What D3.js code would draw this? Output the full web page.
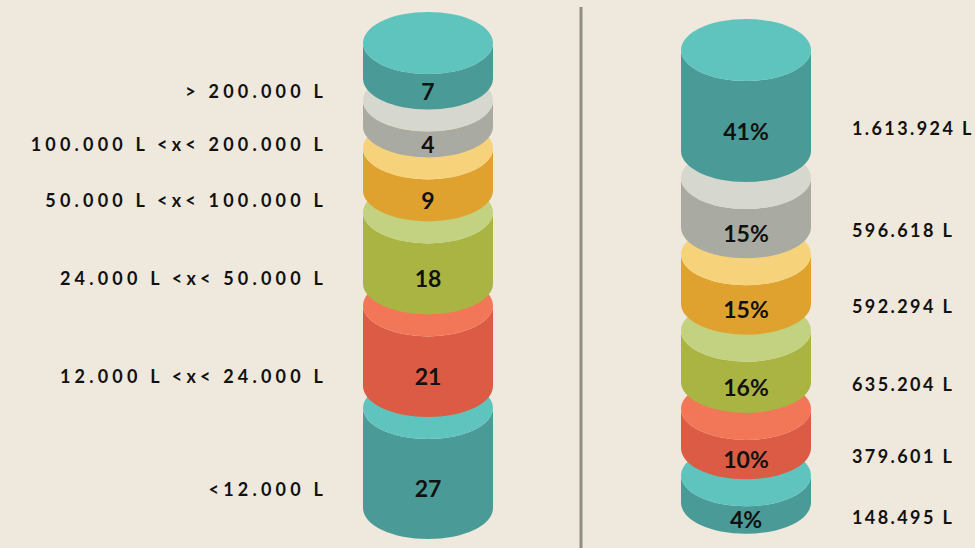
<!DOCTYPE html>
<html>
<head>
<meta charset="utf-8">
<script src="https://cdn.jsdelivr.net/npm/d3@7"></script>
<style>
body{margin:0;background:#efe8dc;}
svg{display:block;}
</style>
</head>
<body>
<svg id="chart" width="975" height="548"></svg>
<script>
// classes de volume, de baixo pra cima
var classes = ["<12.000 L", "12.000 L <x< 24.000 L", "24.000 L <x< 50.000 L", "50.000 L <x< 100.000 L", "100.000 L <x< 200.000 L", "> 200.000 L"];
var counts = [27, 21, 18, 9, 4, 7];
var shares = [4, 10, 16, 15, 15, 41];
var volumes = [148495, 379601, 635204, 592294, 596618, 1613924];

var sideColors = ["#4a9b97", "#dc5b44", "#a9b442", "#dfa22f", "#a9aaa1", "#4a9b97"];
var topColors = ["#5fc4be", "#f27758", "#c3d280", "#f6d27b", "#d6d7ce", "#5fc4be"];

var svg = d3.select("#chart");
var rx = 65, ry = 31;
var ptBR = d3.formatLocale({decimal: ",", thousands: ".", grouping: [3], currency: ["", ""]});
var fmtVol = ptBR.format(",");

// empilha os cilindros de cima pra baixo, devolve as posicoes
function stack(values, hScale, topY, gap) {
    var segs = [];
    var y = topY;
    for (var i = values.length - 1; i >= 0; i--) {
        var h = hScale(values[i]);
        segs[i] = {i: i, top: y, bottom: y + h};
        y += h + gap;
    }
    return segs;
}

function drawCylinder(segs, cx, labels) {
    var g = svg.append("g");
    // de baixo pra cima, assim o de cima cobre a tampa do de baixo
    segs.forEach(function (s) {
        var d = "M" + (cx - rx) + "," + s.top +
            "L" + (cx - rx) + "," + s.bottom +
            "A" + rx + "," + ry + " 0 0 0 " + (cx + rx) + "," + s.bottom +
            "L" + (cx + rx) + "," + s.top +
            "A" + rx + "," + ry + " 0 0 1 " + (cx - rx) + "," + s.top + "Z";
        g.append("path").attr("d", d).attr("fill", sideColors[s.i]);
        g.append("ellipse")
            .attr("cx", cx).attr("cy", s.top)
            .attr("rx", rx).attr("ry", ry)
            .attr("fill", topColors[s.i]);
        g.append("text")
            .attr("x", cx)
            .attr("y", (s.top + s.bottom) / 2 + ry)
            .attr("dy", "0.36em")
            .attr("text-anchor", "middle")
            .style("font-family", "Lato, 'Noto Sans', sans-serif")
            .style("font-weight", "700")
            .style("font-size", "23px")
            .style("fill", "#111")
            .text(labels[s.i]);
    });
}

var hLeft = d3.scaleLinear().domain([0, d3.max(counts)]).range([13, 100]);
var hRight = d3.scaleLinear().domain([0, d3.max(shares)]).range([19.5, 101]);

var left = stack(counts, hLeft, 43, 22);
var right = stack(shares, hRight, 50, 27);

drawCylinder(left, 428, counts);
drawCylinder(right, 746, shares.map(function (d) { return d + "%"; }));

// rotulos das classes
svg.append("g").selectAll("text").data(left).enter()
    .append("text")
    .attr("x", 327)
    .attr("y", function (s) { return (s.top + s.bottom) / 2 + ry; })
    .attr("dy", "0.36em")
    .attr("text-anchor", "end")
    .style("font-family", "Lato, 'Noto Sans', sans-serif")
    .style("font-weight", "700")
    .style("font-size", "18px")
    .style("letter-spacing", "4.2px")
    .style("fill", "#111")
    .text(function (s) { return classes[s.i]; });

// volumes
svg.append("g").selectAll("text").data(right).enter()
    .append("text")
    .attr("x", 852)
    .attr("y", function (s) { return (s.top + s.bottom) / 2 + ry - 3; })
    .attr("dy", "0.36em")
    .attr("text-anchor", "start")
    .style("font-family", "Lato, 'Noto Sans', sans-serif")
    .style("font-weight", "700")
    .style("font-size", "18px")
    .style("letter-spacing", "2.4px")
    .style("fill", "#111")
    .text(function (s) { return fmtVol(volumes[s.i]) + " L"; });

// divisoria
svg.append("line")
    .attr("x1", 581).attr("x2", 581)
    .attr("y1", 7).attr("y2", 548)
    .attr("stroke", "#8f8f81")
    .attr("stroke-width", 3);
</script>
</body>
</html>
